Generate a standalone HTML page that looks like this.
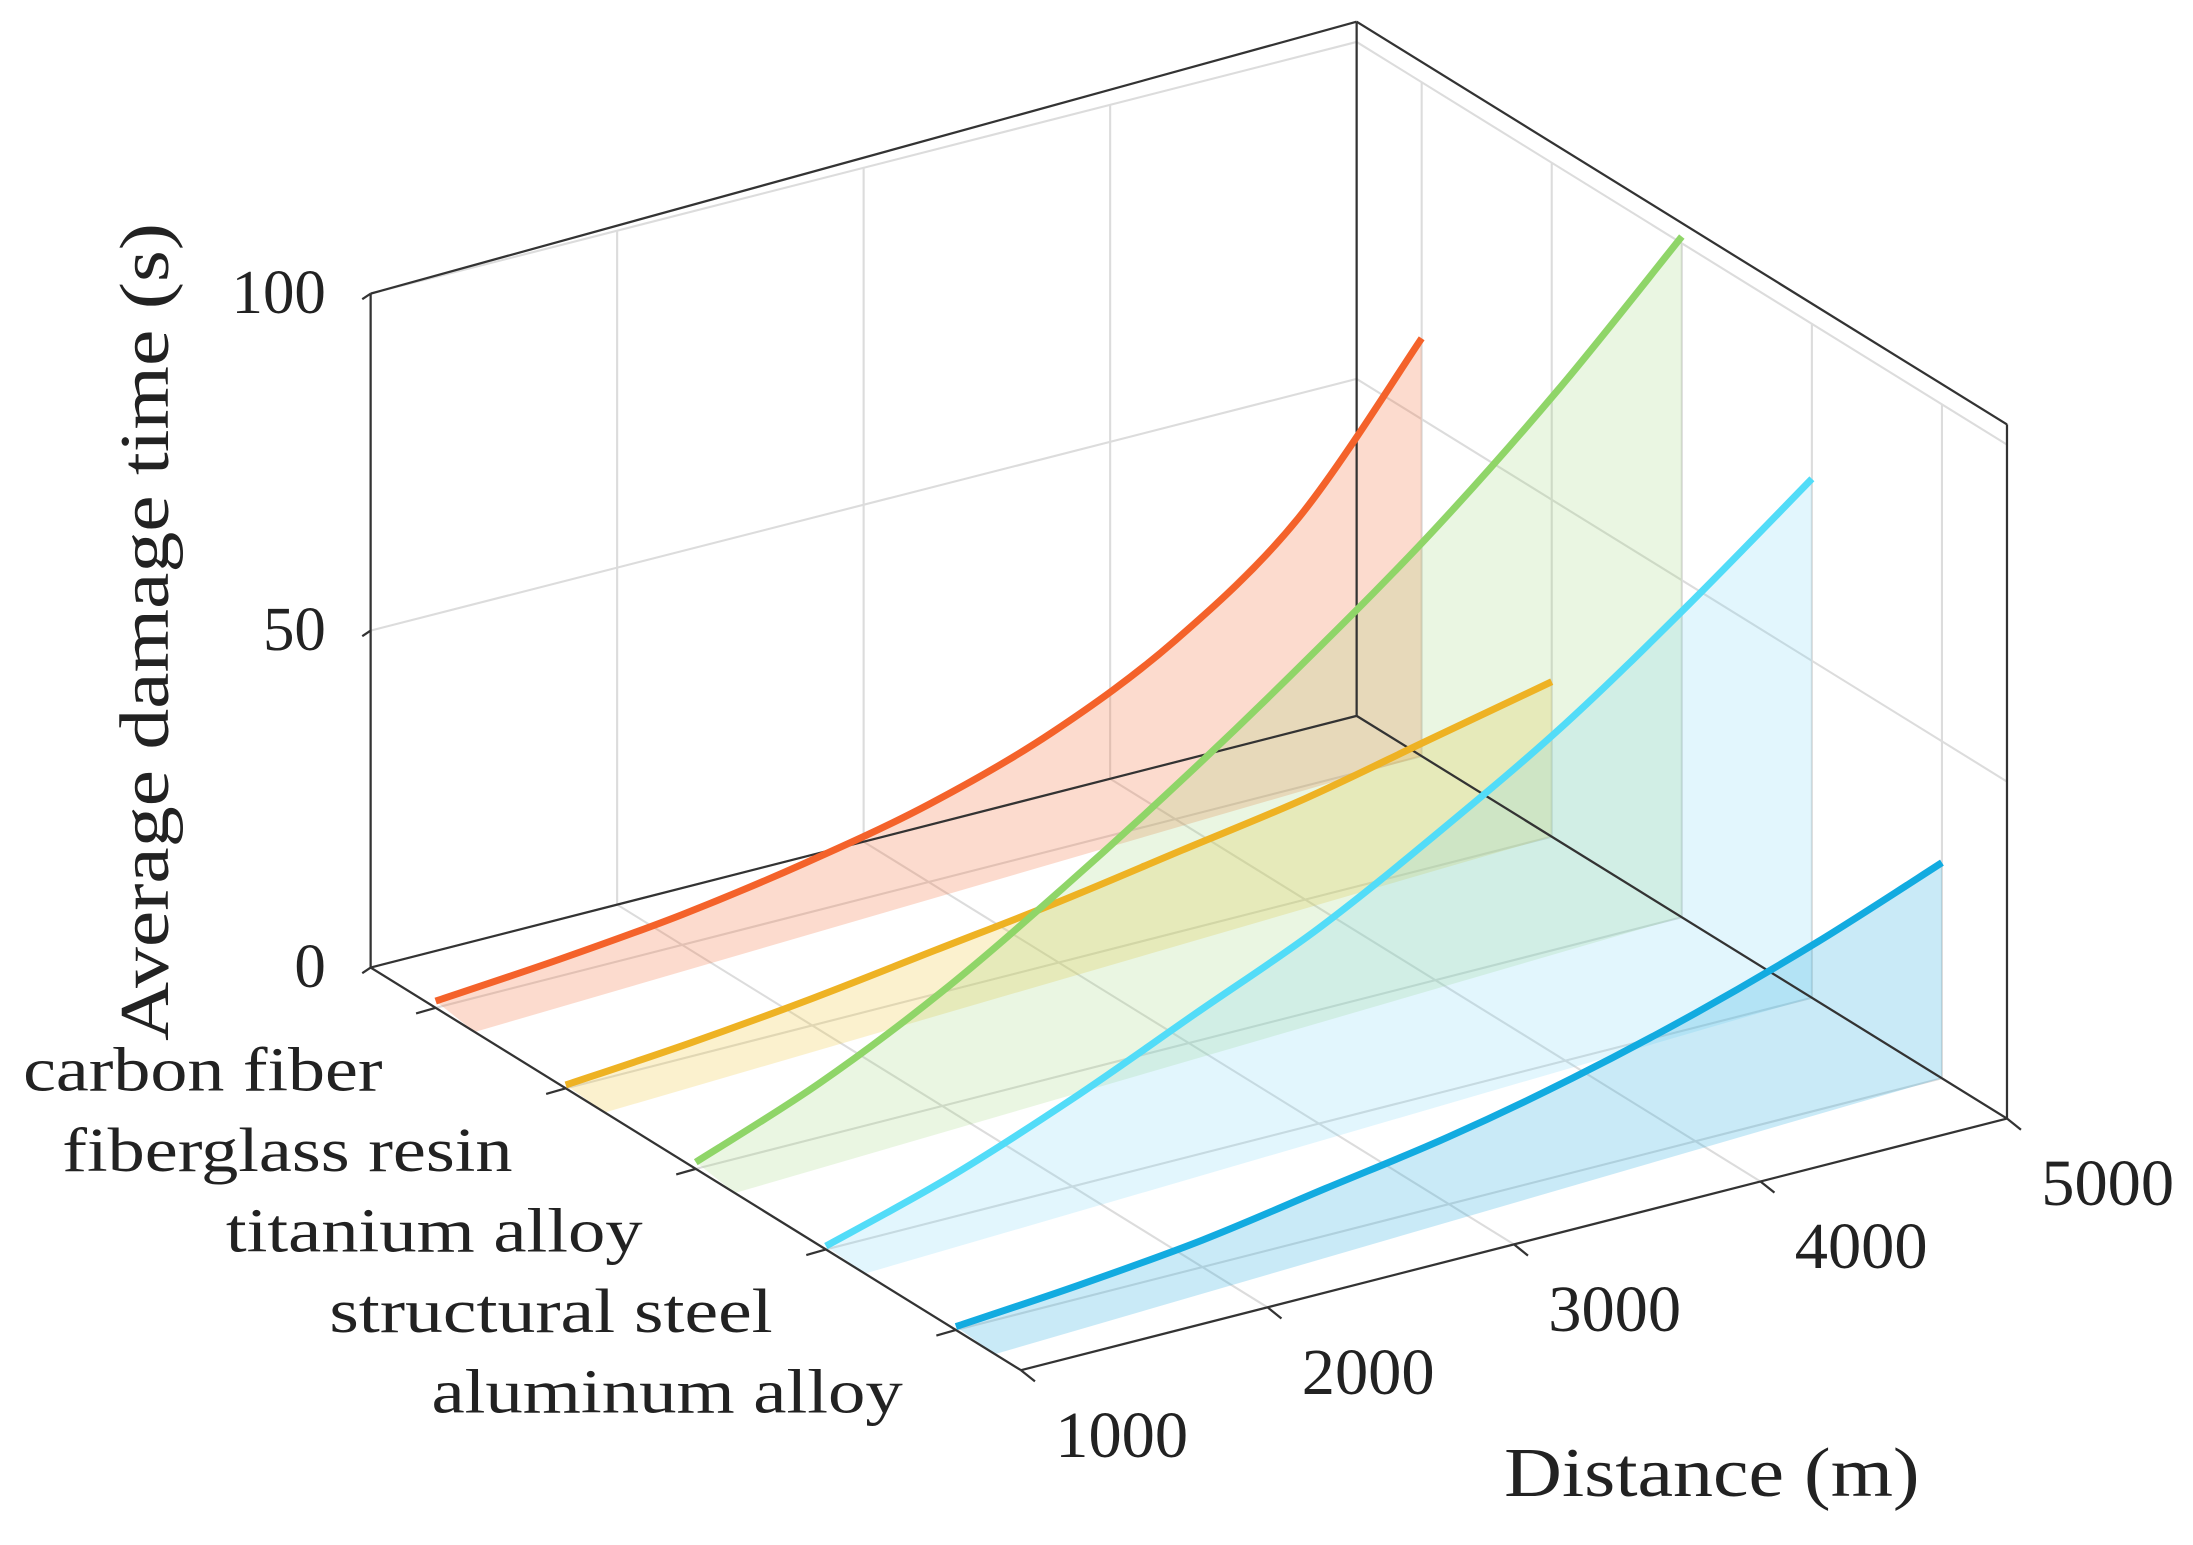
<!DOCTYPE html>
<html><head><meta charset="utf-8"><style>
html,body{margin:0;padding:0;background:#fff;}
svg{display:block;}
text{font-family:"Liberation Serif",serif;fill:#222;}
</style></head><body>
<svg id="chart" width="2193" height="1545" viewBox="0 0 1568 1105" preserveAspectRatio="none" xmlns="http://www.w3.org/2000/svg">
<g id="grid"></g>
<g id="fills"></g>
<g id="box"></g>
<g id="lines"></g>
<g id="labels"></g>
</svg>
<script>
const materials = ["carbon fiber","fiberglass resin","titanium alloy","structural steel","aluminum alloy"];
const distances = [1000,1500,2000,2500,3000,3500,4000,4500,5000];
const carbonFiber = [1,2.5,4.5,7.5,11.5,17.5,26.5,40,62];
const fiberglassResin = [0.5,2,4,6.5,9,12,15,19,23];
const titaniumAlloy = [1,8,17,28,40,53,67,83,101];
const structuralSteel = [0.5,6,13,21,29,39,50,63,77];
const aluminumAlloy = [0.5,2,4,7,10,14,19,25,32];
const distTicks = [1000,2000,3000,4000,5000];
const zTicks = [0,50,100];
const matLabelWidths = [257,322,298,317,337];
const colors = ["#f4622a","#eeb223","#8fd568","#52dcf8","#12abe0"];
const fillColors = ["rgba(244,110,60,0.25)","rgba(238,200,60,0.25)","rgba(150,210,110,0.2)","rgba(110,210,245,0.2)","rgba(40,170,225,0.25)"];
const series = [carbonFiber,fiberglassResin,titaniumAlloy,structuralSteel,aluminumAlloy];

const O=[265,692], U=[465,288], V=[705,-180], W=482;
function mu(i){return 0.1+0.2*i;}
function dv(d){return (d-1000)/4000;}
function P(u,v,z){return [O[0]+u*U[0]+v*V[0], O[1]+u*U[1]+v*V[1]-z/100*W];}
const NS="http://www.w3.org/2000/svg";
function mk(tag,attrs,parent){const e=document.createElementNS(NS,tag);for(const k in attrs)e.setAttribute(k,attrs[k]);parent.appendChild(e);return e;}
function line(a,b,stroke,w,parent,name){const e=mk('line',{x1:a[0],y1:a[1],x2:b[0],y2:b[1],stroke:stroke,'stroke-width':w},parent);


return e;}
const grid=document.getElementById('grid'),box=document.getElementById('box'),fills=document.getElementById('fills'),lines=document.getElementById('lines'),labels=document.getElementById('labels');
const gc="#dcdcdc";
distTicks.forEach(d=>line(P(0,dv(d),0),P(0,dv(d),100),gc,1.5,grid,'gridline-back'));
zTicks.forEach(z=>line(P(0,0,z),P(0,1,z),gc,1.5,grid,'gridline-back'));
materials.forEach((m,i)=>line(P(mu(i),1,0),P(mu(i),1,100),gc,1.5,grid,'gridline-side'));
zTicks.forEach(z=>line(P(0,1,z),P(1,1,z),gc,1.5,grid,'gridline-side'));
materials.forEach((m,i)=>line(P(mu(i),0,0),P(mu(i),1,0),gc,1.5,grid,'gridline-floor'));
distTicks.forEach(d=>line(P(0,dv(d),0),P(1,dv(d),0),gc,1.5,grid,'gridline-floor'));
series.forEach((s,i)=>{
 const u=mu(i);let pts=s.map((z,k)=>P(u,dv(distances[k]),z));
 const end=P(u,dv(distances[distances.length-1]),0);
 const st=P(Math.min(u+0.06,1),dv(distances[0]),0);
 pts=pts.concat([end,st]);
 const e=mk('polygon',{points:pts.map(p=>p.join(',')).join(' '),fill:fillColors[i]},fills);
 
 
});
const bc="#333";
[[P(0,0,0),P(0,0,100)],[P(0,0,0),P(1,0,0)],[P(1,0,0),P(1,1,0)],[P(0,1,0),P(0,1,103)],[P(0,0,0),P(0,1,0)],[P(0,1,0),P(1,1,0)],[P(1,1,0),P(1,1,103)],[P(0,0,100),P(0,1,103)],[P(0,1,103),P(1,1,103)]].forEach(s=>line(s[0],s[1],bc,1.6,box,'axis-edge'));
zTicks.forEach(z=>{const p=P(0,0,z);line(p,[p[0]-6,p[1]+4],bc,1.6,box,'z-tick');
 const t=mk('text',{x:p[0]-32,y:p[1]+14,'font-size':45,'text-anchor':'end'},labels);t.textContent=z;
 
 });
materials.forEach((m,i)=>{const p=P(mu(i),0,0);line(p,[p[0]-14,p[1]+4],bc,1.6,box,'material-tick');
 const t=mk('text',{x:p[0]-38,y:p[1]+59,'font-size':45,'text-anchor':'end',textLength:matLabelWidths[i],lengthAdjust:'spacingAndGlyphs'},labels);t.textContent=m;
 
 });
distTicks.forEach(d=>{const p=P(1,dv(d),0);line(p,[p[0]+10,p[1]+8],bc,1.6,box,'distance-tick');
 const t=mk('text',{x:p[0]+72,y:p[1]+62,'font-size':47,'text-anchor':'middle',textLength:95,lengthAdjust:'spacingAndGlyphs'},labels);t.textContent=d;
 
 });
function smooth(pts){let d='M'+pts[0].join(',');for(let i=0;i<pts.length-1;i++){const p0=pts[i-1]||pts[i],p1=pts[i],p2=pts[i+1],p3=pts[i+2]||p2;
 d+=` C${p1[0]+(p2[0]-p0[0])/6},${p1[1]+(p2[1]-p0[1])/6} ${p2[0]-(p3[0]-p1[0])/6},${p2[1]-(p3[1]-p1[1])/6} ${p2[0]},${p2[1]}`;}return d;}
series.forEach((s,i)=>{const u=mu(i);const pts=s.map((z,k)=>P(u,dv(distances[k]),z));
 const e=mk('path',{d:smooth(pts),fill:'none',stroke:colors[i],'stroke-width':5,'stroke-linecap':'butt'},lines);
 
 });
const yt=mk('text',{x:0,y:0,'font-size':50,'text-anchor':'middle',textLength:585,lengthAdjust:'spacingAndGlyphs',transform:'translate(120,452) rotate(-90)'},labels);yt.textContent='Average damage time (s)';


const xt=mk('text',{x:1224,y:1070,'font-size':50,'text-anchor':'middle',textLength:297,lengthAdjust:'spacingAndGlyphs'},labels);xt.textContent='Distance (m)';


</script>
</body></html>
